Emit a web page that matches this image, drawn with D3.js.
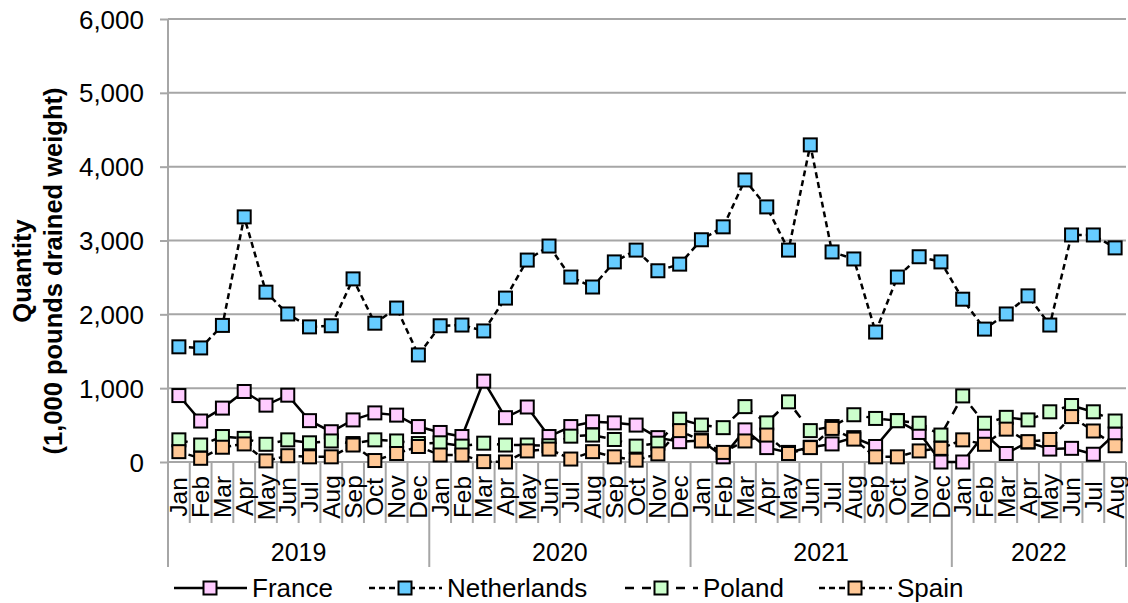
<!DOCTYPE html>
<html>
<head>
<meta charset="utf-8">
<script src="https://cdn.jsdelivr.net/npm/d3@7"></script>
<style>
  html, body { margin: 0; padding: 0; background: #fff; }
  svg { display: block; font-family: "Liberation Sans", Arial, sans-serif; }
</style>
</head>
<body>
<svg id="chart" width="1128" height="603"></svg>
<script>
// Monthly quantities, Jan 2019 – Aug 2022 (1,000 pounds drained weight)
const monthNames = ["Jan","Feb","Mar","Apr","May","Jun","Jul","Aug","Sep","Oct","Nov","Dec"];
const years = ["2019", "2020", "2021", "2022"];
const monthsPerYear = [12, 12, 12, 8];

const france = [
  900, 555, 730, 955, 770, 905, 560, 410, 570, 665, 635, 480,
  400, 345, 1095, 600, 745, 345, 480, 545, 530, 500, 330, 275,
  290, 70, 435, 195, 130, 200, 245, 330, 210, 560, 400, 0,
  0, 380, 115, 270, 175, 185, 105, 380
];
const netherlands = [
  1560, 1545, 1850, 3320, 2300, 2005, 1830, 1845, 2480, 1880, 2085, 1450,
  1845, 1855, 1775, 2220, 2735, 2925, 2505, 2370, 2710, 2870, 2590, 2680,
  3010, 3185, 3820, 3455, 2870, 4295, 2845, 2750, 1760, 2505, 2780, 2710,
  2205, 1800, 2005, 2250, 1855, 3075, 3075, 2900
];
const poland = [
  300, 230, 345, 320, 240, 300, 260, 285, 250, 300, 285, 250,
  260, 215, 255, 230, 230, 220, 350, 365, 305, 215, 255, 580,
  500, 465, 750, 530, 815, 425, 480, 640, 590, 560, 525, 365,
  895, 525, 605, 570, 680, 765, 680, 555
];
const spain = [
  140, 50, 200, 245, 15, 85, 70, 70, 230, 20, 115, 210,
  95, 95, 5, 0, 150, 175, 40, 140, 70, 25, 110, 425,
  285, 130, 285, 365, 115, 195, 455, 310, 70, 70, 150, 185,
  300, 240, 445, 275, 305, 615, 420, 220
];
const yTicks = [0, 1000, 2000, 3000, 4000, 5000, 6000];

// Category keys: one per month
const categories = [];
years.forEach((yr, i) => {
  for (let m = 0; m < monthsPerYear[i]; m++) categories.push(yr + "-" + monthNames[m]);
});

const seriesList = [
  { name: "France",      values: france,      fill: "#FFCCFF", dash: null },
  { name: "Netherlands", values: netherlands, fill: "#66CCFF", dash: "6,4" },
  { name: "Poland",      values: poland,      fill: "#CCFFCC", dash: "9,8" },
  { name: "Spain",       values: spain,       fill: "#FFC896", dash: "6,4" }
];

const svg = d3.select("#chart");
const plotLeft = 168, plotRight = 1126, plotTop = 19, plotBottom = 462;
const gridColor = "#A6A6A6";
const fontSize = 24;
const bigFont = 26;

const x = d3.scaleBand().domain(categories).range([plotLeft, plotRight]).padding(0);
const y = d3.scaleLinear().domain([0, 6000]).range([plotBottom, plotTop]);
const cx = c => x(c) + x.bandwidth() / 2;

// Horizontal gridlines and value axis
const yAxis = d3.axisLeft(y).tickValues(yTicks).tickSize(8).tickFormat(d3.format(","));
const yg = svg.append("g").attr("transform", `translate(${plotLeft},0)`).call(yAxis);
yg.select(".domain").remove();
yg.selectAll(".tick line").attr("stroke", gridColor).attr("stroke-width", 2);
yg.selectAll(".tick text")
  .attr("x", -24).attr("dy", "0.35em")
  .attr("font-size", bigFont).attr("fill", "#000")
  .attr("font-family", "Liberation Sans, Arial, sans-serif");
svg.append("g").selectAll("line").data(yTicks).join("line")
  .attr("x1", plotLeft).attr("x2", plotRight)
  .attr("y1", d => y(d)).attr("y2", d => y(d))
  .attr("stroke", gridColor).attr("stroke-width", 2);

// Category axis: month separators, month labels, year separators, year labels
const monthLineBottom = 523, yearLineBottom = 567;
const sepG = svg.append("g");
categories.forEach((c, i) => {
  if (i === 0) return;
  const isYearStart = c.endsWith("-Jan");
  sepG.append("line")
    .attr("x1", x(c)).attr("x2", x(c))
    .attr("y1", plotBottom).attr("y2", isYearStart ? yearLineBottom : monthLineBottom)
    .attr("stroke", gridColor).attr("stroke-width", 2);
});
sepG.append("line").attr("x1", plotRight).attr("x2", plotRight)
  .attr("y1", plotBottom).attr("y2", yearLineBottom)
  .attr("stroke", gridColor).attr("stroke-width", 2);
// value axis line runs down through the label rows
svg.append("line").attr("x1", plotLeft).attr("x2", plotLeft)
  .attr("y1", plotTop).attr("y2", yearLineBottom)
  .attr("stroke", gridColor).attr("stroke-width", 2);

svg.append("g").selectAll("text").data(categories).join("text")
  .attr("transform", d => `translate(${cx(d)},${497}) rotate(-90)`)
  .attr("text-anchor", "middle")
  .attr("dy", "0.35em")
  .attr("font-size", 24.5)
  .text(d => d.split("-")[1]);

let startIdx = 0;
years.forEach((yr, i) => {
  const first = categories[startIdx];
  const last = categories[startIdx + monthsPerYear[i] - 1];
  const mid = (x(first) + x(last) + x.bandwidth()) / 2;
  svg.append("text")
    .attr("x", mid).attr("y", 552).attr("dy", "0.35em")
    .attr("text-anchor", "middle").attr("font-size", 25)
    .text(yr);
  startIdx += monthsPerYear[i];
});

// Axis title
const title = svg.append("text")
  .attr("transform", "translate(0,271) rotate(-90)")
  .attr("text-anchor", "middle")
  .attr("font-weight", "bold")
  .attr("font-size", 25.5);
title.append("tspan").attr("x", 0).attr("y", 31).text("Quantity");
title.append("tspan").attr("x", 0).attr("y", 62).text("(1,000 pounds drained weight)");

// Series lines and markers
const mk = 13;
const line = d3.line().x((d, i) => cx(categories[i])).y(d => y(d));
seriesList.forEach(s => {
  const g = svg.append("g");
  g.append("path")
    .attr("d", line(s.values))
    .attr("fill", "none").attr("stroke", "#000").attr("stroke-width", 2.5)
    .attr("stroke-dasharray", s.dash);
  g.selectAll("rect").data(s.values).join("rect")
    .attr("x", (d, i) => cx(categories[i]) - mk / 2)
    .attr("y", d => y(d) - mk / 2)
    .attr("width", mk).attr("height", mk)
    .attr("fill", s.fill).attr("stroke", "#000").attr("stroke-width", 2);
});

// Legend
const legendY = 588;
const legendTextX = [252, 447, 703, 897];
seriesList.forEach((s, i) => {
  const tx = legendTextX[i];
  const g = svg.append("g");
  g.append("line")
    .attr("x1", tx - 78).attr("x2", tx - 5)
    .attr("y1", legendY).attr("y2", legendY)
    .attr("stroke", "#000").attr("stroke-width", 2.5)
    .attr("stroke-dasharray", s.dash);
  g.append("rect")
    .attr("x", tx - 42 - 6.5).attr("y", legendY - 6.5)
    .attr("width", 13).attr("height", 13)
    .attr("fill", s.fill).attr("stroke", "#000").attr("stroke-width", 2);
  g.append("text")
    .attr("x", tx).attr("y", legendY).attr("dy", "0.35em")
    .attr("font-size", bigFont)
    .text(s.name);
});
</script>
</body>
</html>
